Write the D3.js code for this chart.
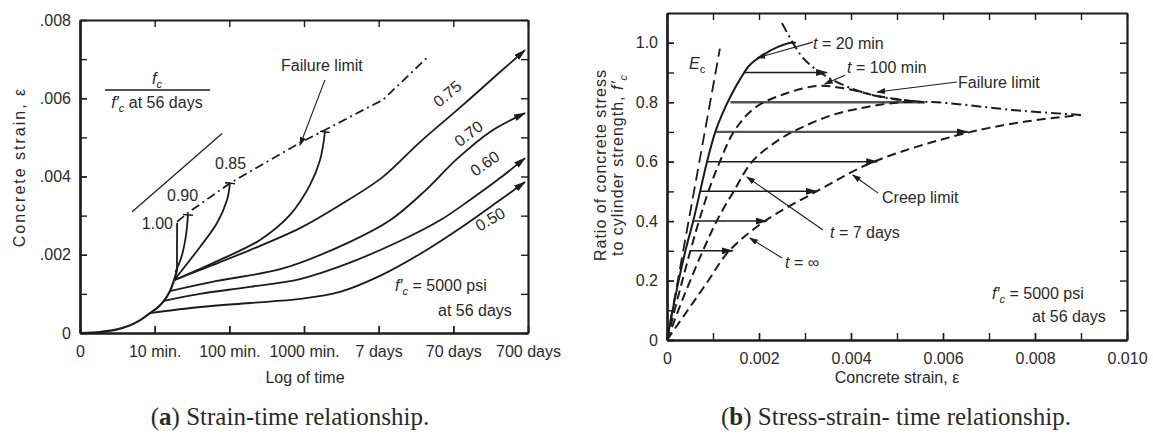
<!DOCTYPE html>
<html><head><meta charset="utf-8">
<script src="https://cdn.jsdelivr.net/npm/d3@7"></script>
<style>
body{margin:0;background:#fff;}
svg{display:block;font-family:"Liberation Sans",Arial,Helvetica,sans-serif;}
</style></head><body>
<svg id="c" width="1153" height="442"></svg>
<script>
// ================= Panel (a): strain vs log time (time in minutes) =================
const aXTickValues = [1, 10, 100, 1000, 1e4, 1e5, 1e6];
const aXTickLabels = ["0", "10 min.", "100 min.", "1000 min.", "7 days", "70 days", "700 days"];
const aYTickValues = [0, 0.002, 0.004, 0.006, 0.008];
const aYTickLabels = ["0", ".002", ".004", ".006", ".008"];
const aYMinor = [0, 0.001, 0.002, 0.003, 0.004, 0.005, 0.006, 0.007, 0.008];

const aBase = [[1,0],[1.85,0.000026],[2.94,0.00008],[4.7,0.0002],[6.4,0.00033],[8.65,0.00051],[11.1,0.00066],[13.3,0.00082],[16,0.00107],[18.2,0.00135],[19.9,0.00161]];
const a050 = [[8.65,0.00051],[40.5,0.000665],[189,0.000767],[884,0.00087],[3030,0.00105],[10400,0.00146],[35700,0.00202],[123000,0.00268],[422000,0.0034],[912000,0.00386]];
const a060 = [[13.3,0.00082],[40.5,0.001],[189,0.00118],[884,0.00138],[4130,0.0018],[19300,0.00235],[66200,0.00288],[167000,0.0034],[422000,0.00396],[912000,0.00447]];
const a070 = [[16,0.00107],[68,0.00133],[523,0.00165],[4130,0.00233],[14200,0.00288],[40000,0.0036],[112000,0.00445],[310000,0.00514],[912000,0.00562]];
const a075 = [[18.2,0.00135],[55,0.00171],[189,0.00212],[884,0.00268],[3030,0.00327],[11400,0.00399],[35700,0.00488],[135000,0.00583],[422000,0.00667],[912000,0.00723]];
const a080 = [[18.2,0.00135],[75,0.00187],[258,0.00238],[649,0.00302],[1200,0.00378],[1640,0.00442],[1910,0.00514]];
const a085 = [[18.2,0.00135],[40.5,0.0022],[68.4,0.00281],[93.1,0.0034],[102,0.00383]];
const a090 = [[19,0.00156],[23.2,0.00199],[26.3,0.0025],[27.9,0.00302]];
const a100 = [[19.9,0.00161],[19.9,0.0022],[20,0.00281]];
const aThin = [[5,0.0031],[80,0.0051]];
const aFailure = [[19.9,0.00284],[27.9,0.00307],[102,0.00383],[884,0.00486],[1910,0.00519],[11400,0.00596],[45800,0.00706]];
const aFailPointer = [[1910,0.00647],[884,0.0048]];

// ================= Panel (b): stress ratio vs strain =================
const bXTickValues = [0, 0.002, 0.004, 0.006, 0.008, 0.010];
const bXTickLabels = ["0", "0.002", "0.004", "0.006", "0.008", "0.010"];
const bXMinor = [0,0.001,0.002,0.003,0.004,0.005,0.006,0.007,0.008,0.009,0.010];
const bYTickValues = [0, 0.2, 0.4, 0.6, 0.8, 1.0];
const bYTickLabels = ["0", "0.2", "0.4", "0.6", "0.8", "1.0"];
const bYMinor = [0,0.1,0.2,0.3,0.4,0.5,0.6,0.7,0.8,0.9,1.0];

const bEc = [[0,0],[0.00115,0.98]];
const b20min = [[0,0],[0.0002,0.16],[0.0004,0.3],[0.00057,0.4],[0.00072,0.5],[0.00087,0.6],[0.00105,0.7],[0.0012,0.76],[0.0014,0.825],[0.0016,0.88],[0.0018,0.925],[0.0021,0.96],[0.0024,0.985],[0.0027,1.0],[0.0028,1.0]];
const b100min = [[0,0],[0.0003,0.18],[0.0006,0.35],[0.0009,0.5],[0.00115,0.6],[0.00145,0.7],[0.0019,0.78],[0.0026,0.83],[0.0033,0.855],[0.0039,0.845],[0.0046,0.82],[0.0055,0.80]];
const b7days = [[0,0],[0.0004,0.16],[0.00078,0.3],[0.00108,0.4],[0.00145,0.5],[0.00185,0.6],[0.0024,0.67],[0.0029,0.713],[0.0036,0.757],[0.00435,0.784],[0.0051,0.80],[0.0056,0.80]];
const bCreep = [[0,0],[0.00045,0.1],[0.0009,0.2],[0.00133,0.296],[0.0021,0.397],[0.0033,0.504],[0.0045,0.6],[0.0065,0.696],[0.0078,0.735],[0.009,0.757]];
const bFailure = [[0.0025,1.066],[0.0029,0.96],[0.00317,0.918],[0.0036,0.875],[0.0043,0.831],[0.0051,0.807],[0.0061,0.797],[0.0075,0.774],[0.009,0.757]];
const bArrowStress = [0.3, 0.4, 0.5, 0.6, 0.7, 0.8, 0.9];
const bArrowStart = [0.0005, 0.00057, 0.00072, 0.00087, 0.00105, 0.00138, 0.00168];
const bArrowEnd = [0.00143, 0.00217, 0.00326, 0.00457, 0.00654, 0.0056, 0.00348];
const bPointers = [
  [[0.00317,1.002],[0.00196,0.949]],   // t = 20 min
  [[0.00387,0.891],[0.00343,0.861]],   // t = 100 min
  [[0.0063,0.868],[0.00457,0.834]],    // failure limit
  [[0.00459,0.494],[0.00404,0.555]],   // creep limit
  [[0.00339,0.37],[0.00174,0.548]],    // t = 7 days
  [[0.0025,0.276],[0.0018,0.343]]      // t = inf
];

// ================= drawing =================
const svg = d3.select("#c");
const ink = "#1c1c1c";
const txtCol = "#2a2a2a";
const defs = svg.append("defs");
defs.append("marker").attr("id","arr").attr("viewBox","0 0 12 7").attr("refX",11).attr("refY",3.5)
  .attr("markerWidth",12).attr("markerHeight",7).attr("markerUnits","userSpaceOnUse").attr("orient","auto")
  .append("path").attr("d","M0,0L12,3.5L0,7z").attr("fill",ink);
defs.append("marker").attr("id","sarr").attr("viewBox","0 0 9 6").attr("refX",8).attr("refY",3)
  .attr("markerWidth",9).attr("markerHeight",6).attr("markerUnits","userSpaceOnUse").attr("orient","auto")
  .append("path").attr("d","M0,0L9,3L0,6z").attr("fill",ink);
defs.append("marker").attr("id","tee").attr("viewBox","0 0 2 10").attr("refX",1).attr("refY",5)
  .attr("markerWidth",2).attr("markerHeight",10).attr("markerUnits","userSpaceOnUse").attr("orient","auto")
  .append("path").attr("d","M1,0L1,10").attr("stroke",ink).attr("stroke-width",1.6);

function frameAxes(g, x, y, xMajor, xLabels, xMinor, yMajor, yLabels, yMinor, tickLen){
  const b = g.append("g").attr("transform",`translate(0,${y.range()[0]})`)
    .call(d3.axisBottom(x).tickValues(xMajor).tickFormat((d,i)=>xLabels[i]).tickSizeInner(-tickLen).tickSizeOuter(0).tickPadding(13));
  const l = g.append("g").attr("transform",`translate(${x.range()[0]},0)`)
    .call(d3.axisLeft(y).tickValues(yMajor).tickFormat((d,i)=>yLabels[i]).tickSizeInner(-tickLen).tickSizeOuter(0).tickPadding(9));
  const t = g.append("g").attr("transform",`translate(0,${y.range()[1]})`)
    .call(d3.axisTop(x).tickValues(xMinor).tickFormat("").tickSizeInner(-tickLen).tickSizeOuter(0));
  const r = g.append("g").attr("transform",`translate(${x.range()[1]},0)`)
    .call(d3.axisRight(y).tickValues(yMinor).tickFormat("").tickSizeInner(-tickLen).tickSizeOuter(0));
  const bm = g.append("g").attr("transform",`translate(0,${y.range()[0]})`)
    .call(d3.axisBottom(x).tickValues(xMinor).tickFormat("").tickSizeInner(-tickLen).tickSizeOuter(0));
  const lm = g.append("g").attr("transform",`translate(${x.range()[0]},0)`)
    .call(d3.axisLeft(y).tickValues(yMinor).tickFormat("").tickSizeInner(-tickLen).tickSizeOuter(0));
  [b,l,t,r,bm,lm].forEach(a=>{
    a.select(".domain").attr("stroke",ink).attr("stroke-width",2.2);
    a.selectAll(".tick line").attr("stroke",ink).attr("stroke-width",1.4);
    a.selectAll(".tick text").attr("font-size",16).attr("fill",txtCol)
      .attr("font-family",'"Liberation Sans",Arial,sans-serif');
  });
}

function drawLine(g, data, x, y, opts){
  const gen = d3.line().x(d=>x(d[0])).y(d=>y(d[1])).curve(opts.linear ? d3.curveLinear : d3.curveCatmullRom.alpha(0.5));
  const p = g.append("path").attr("d",gen(data)).attr("fill","none")
    .attr("stroke",opts.color||ink).attr("stroke-width",opts.w||1.8)
    .attr("stroke-linejoin","round").attr("stroke-linecap","butt");
  if(opts.dash) p.attr("stroke-dasharray",opts.dash);
  if(opts.end) p.attr("marker-end",`url(#${opts.end})`);
  return p;
}

function label(g, x, y, parts, opts={}){
  const t = g.append("text").attr("x",x).attr("y",y).attr("font-size",opts.size||16).attr("fill",txtCol)
    .attr("text-anchor",opts.anchor||"start");
  if(opts.rotate!==undefined) t.attr("transform",`rotate(${opts.rotate},${x},${y})`);
  if(opts.spacing) t.attr("letter-spacing",opts.spacing);
  if(opts.family) t.attr("font-family",opts.family);
  parts.forEach(p=>{
    if(typeof p==="string"){ t.append("tspan").text(p); return; }
    const s = t.append("tspan").text(p.t);
    if(p.i) s.attr("font-style","italic");
    if(p.b) s.attr("font-weight","bold");
    if(p.sub){ s.attr("font-size",(opts.size||16)*0.7).attr("dy",4); }
    if(p.up){ s.attr("dy",-4); }
    if(p.dx) s.attr("dx",p.dx);
  });
  return t;
}

// ---------- Panel (a) ----------
const xa = d3.scaleLog().domain([1,1e6]).range([80,528]);
const ya = d3.scaleLinear().domain([0,0.008]).range([333,20]);
const ga = svg.append("g");
frameAxes(ga, xa, ya, aXTickValues, aXTickLabels, aXTickValues, aYTickValues, aYTickLabels, aYMinor, 7);

drawLine(ga, aBase, xa, ya, {w:2.2});
[a050,a060,a070,a075].forEach(d=>drawLine(ga, d, xa, ya, {w:1.8, end:"arr"}));
[a080,a085,a090].forEach(d=>drawLine(ga, d, xa, ya, {w:1.8, end:"tee"}));
drawLine(ga, a100, xa, ya, {w:1.8, linear:true});
drawLine(ga, aThin, xa, ya, {w:1.2});
drawLine(ga, aFailure, xa, ya, {w:1.8, dash:"9,4,2,4", linear:true});
drawLine(ga, aFailPointer, xa, ya, {w:1.1, linear:true, end:"sarr"});

// fraction legend
const fracY = 90;
ga.append("line").attr("x1",105).attr("x2",210).attr("y1",fracY).attr("y2",fracY).attr("stroke",ink).attr("stroke-width",1.3);
label(ga, 157, 84, [{t:"f",i:true},{t:"c",sub:true,i:true}], {anchor:"middle"});
label(ga, 157, 108, [{t:"f′",i:true},{t:"c",sub:true,i:true},{t:" at 56 days",up:true}], {anchor:"middle"});
label(ga, 281, 71, ["Failure limit"]);
label(ga, 215, 169, ["0.85"]);
label(ga, 167, 201, ["0.90"]);
label(ga, 173, 229, ["1.00"], {anchor:"end"});
label(ga, 451, 98, ["0.75"], {anchor:"middle", rotate:-40});
label(ga, 472, 138, ["0.70"], {anchor:"middle", rotate:-38});
label(ga, 488, 168, ["0.60"], {anchor:"middle", rotate:-35});
label(ga, 493, 224, ["0.50"], {anchor:"middle", rotate:-30});
label(ga, 395, 291, [{t:"f′",i:true},{t:"c",sub:true,i:true},{t:" = 5000 psi",up:true}]);
label(ga, 438, 316, ["at 56 days"]);
// axis titles
label(ga, 25, 167, ["Concrete strain, ", {t:"ε"}], {anchor:"middle", rotate:-90, spacing:2});
label(ga, 305, 383, ["Log of time"], {anchor:"middle"});

// ---------- Panel (b) ----------
const xb = d3.scaleLinear().domain([0,0.010]).range([667,1127]);
const yb = d3.scaleLinear().domain([0,1.1]).range([340,13]);
const gb = svg.append("g");

// horizontal creep arrows
bArrowStress.forEach((s,i)=>{
  const heavy = (s===0.7||s===0.8);
  gb.append("line").attr("x1",xb(bArrowStart[i])).attr("x2",xb(bArrowEnd[i]))
    .attr("y1",yb(s)).attr("y2",yb(s))
    .attr("stroke",heavy?"#555":ink).attr("stroke-width",heavy?2.4:1.5)
    .attr("marker-end", s===0.8 ? null : "url(#arr)");
});
drawLine(gb, bEc, xb, yb, {w:1.8, dash:"12,6", linear:true});
drawLine(gb, b20min, xb, yb, {w:2});
drawLine(gb, b100min, xb, yb, {w:2, dash:"9,5"});
drawLine(gb, b7days, xb, yb, {w:2, dash:"9,5"});
drawLine(gb, bCreep, xb, yb, {w:2, dash:"9,5"});
drawLine(gb, bFailure, xb, yb, {w:2, dash:"10,4,2,4"});
bPointers.forEach(p=>drawLine(gb, p, xb, yb, {w:1.1, linear:true, end:"sarr"}));

frameAxes(gb, xb, yb, bXTickValues, bXTickLabels, bXMinor, bYTickValues, bYTickLabels, bYMinor, 7);

label(gb, 689, 69, [{t:"E",i:true},{t:"c",sub:true}]);
label(gb, 813, 49, [{t:"t",i:true}," = 20 min"]);
label(gb, 847, 73, [{t:"t",i:true}," = 100 min"]);
label(gb, 958, 88, ["Failure limit"]);
label(gb, 882, 203, ["Creep limit"]);
label(gb, 830, 238, [{t:"t",i:true}," = 7 days"]);
label(gb, 785, 268, [{t:"t",i:true}," = ∞"]);
label(gb, 992, 299, [{t:"f′",i:true},{t:"c",sub:true,i:true},{t:" = 5000 psi",up:true}]);
label(gb, 1032, 322, ["at 56 days"]);
label(gb, 606, 165, ["Ratio of concrete stress"], {anchor:"middle", rotate:-90, spacing:1});
label(gb, 623, 165, ["to cylinder strength, ", {t:"f′",i:true}, {t:"c",sub:true,i:true}], {anchor:"middle", rotate:-90, spacing:1});
label(gb, 897, 383, ["Concrete strain, ", "ε"], {anchor:"middle"});

// captions
const serif = '"Liberation Serif","Times New Roman",serif';
label(svg, 290, 425, ["(", {t:"a",b:true}, ") Strain-time relationship."], {anchor:"middle", size:25, family:serif});
label(svg, 896, 425, ["(", {t:"b",b:true}, ") Stress-strain- time relationship."], {anchor:"middle", size:25, family:serif});
</script>
</body></html>
